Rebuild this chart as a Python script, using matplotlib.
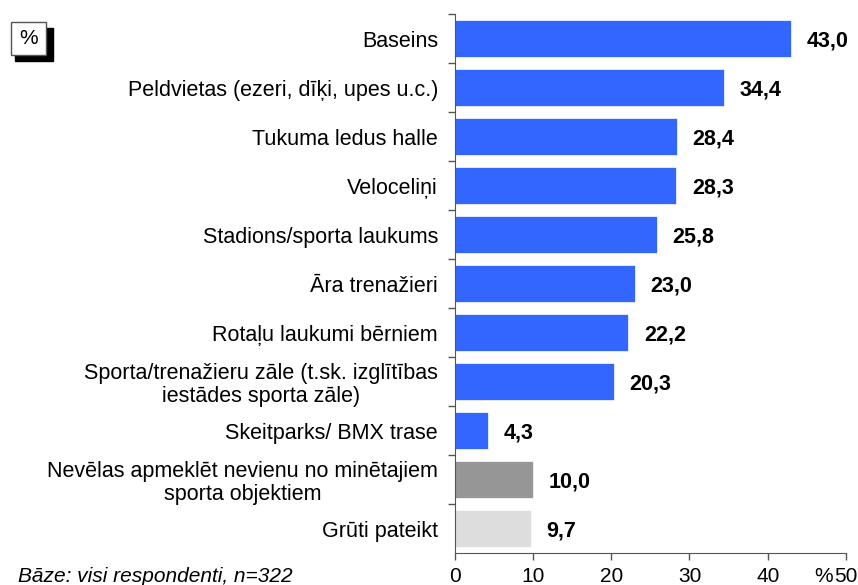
import matplotlib.pyplot as plt
from matplotlib.patches import Rectangle

plt.rcParams['font.family'] = ['Liberation Sans', 'DejaVu Sans']

# data
labels = ["Baseins",
          "Peldvietas (ezeri, dīķi, upes u.c.)",
          "Tukuma ledus halle",
          "Veloceliņi",
          "Stadions/sporta laukums",
          "Āra trenažieri",
          "Rotaļu laukumi bērniem",
          "Sporta/trenažieru zāle (t.sk. izglītības\niestādes sporta zāle)",
          "Skeitparks/ BMX trase",
          "Nevēlas apmeklēt nevienu no minētajiem\nsporta objektiem",
          "Grūti pateikt"]
values = [43.0, 34.4, 28.4, 28.3, 25.8, 23.0, 22.2, 20.3, 4.3, 10.0, 9.7]
colors = ["#3366FF"] * 9 + ["#969696", "#DDDDDD"]

fig = plt.figure(figsize=(8.58, 5.85), dpi=100)
ax = fig.add_axes([0.530, 0.0547, 0.456, 0.9213])

pos = list(range(len(values)))
ax.barh(pos, values, height=0.76, color=colors, edgecolor="white", linewidth=0.5)

for p, v in zip(pos, values):
    ax.text(v + 2.0, p + 0.05, f"{v:.1f}".replace(".", ","), va="center", ha="left",
            fontsize=15.5, fontweight="bold")

ax.set_xlim(0, 50)
ax.set_ylim(len(values) - 0.5, -0.5)
ax.set_xticks([0, 10, 20, 30, 40, 50])
ax.set_xticklabels(["0", "10", "20", "30", "40", "50"], fontsize=15)
ax.set_yticks(pos)
ax.set_yticklabels(labels, fontsize=15.5, multialignment="center", linespacing=1.15)
ax.set_yticks([p + 0.5 for p in pos[:-1]] + [-0.5], minor=True)
ax.tick_params(axis="y", which="major", length=0, pad=12)
ax.tick_params(axis="y", which="minor", length=5, direction="out", width=1, color="#555555")
ax.tick_params(axis="x", length=5, direction="out", width=1, color="#555555", pad=5)
for s in ["top", "right"]:
    ax.spines[s].set_visible(False)
ax.spines["left"].set_color("#555555")
ax.spines["bottom"].set_color("#555555")

fig.text(833 / 858, 1 - 576 / 585, "%", fontsize=15, ha="right", va="center")
fig.text(18 / 858, 1 - 576 / 585, "Bāze: visi respondenti, n=322", fontsize=15,
         style="italic", ha="left", va="center")

# "%" box with shadow in the top-left corner
fig.patches.append(Rectangle((15 / 858, 1 - 61 / 585), 38 / 858, 33 / 585,
                             transform=fig.transFigure, facecolor="black", edgecolor="black"))
fig.patches.append(Rectangle((11 / 858, 1 - 55 / 585), 35 / 858, 33 / 585,
                             transform=fig.transFigure, facecolor="white", edgecolor="#555555"))
fig.text(28.5 / 858, 1 - 39 / 585, "%", fontsize=15, ha="center", va="center")

fig.savefig("out.png", dpi=100)
